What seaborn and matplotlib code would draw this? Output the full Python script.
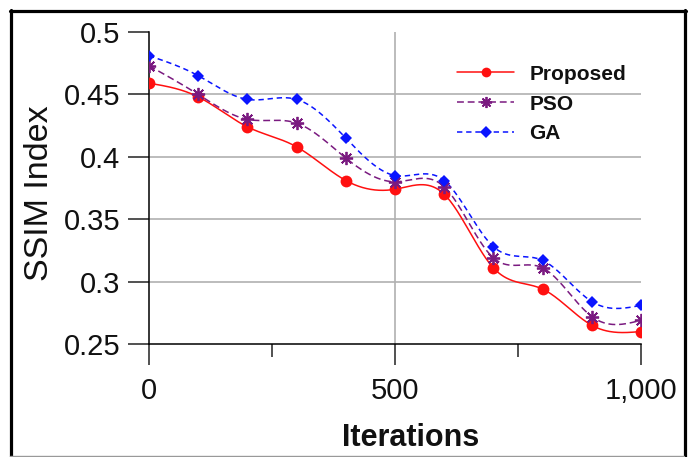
import numpy as np
import pandas as pd
import matplotlib
matplotlib.use("Agg")
import matplotlib.pyplot as plt
from matplotlib.lines import Line2D
import seaborn as sns

# ---- data ----
iterations = [0, 100, 200, 300, 400, 500, 600, 700, 800, 900, 1000]
proposed = [0.459, 0.448, 0.424, 0.408, 0.381, 0.374, 0.370, 0.311, 0.294, 0.265, 0.260]
pso = [0.473, 0.450, 0.430, 0.427, 0.399, 0.380, 0.376, 0.319, 0.311, 0.272, 0.269]
ga = [0.481, 0.465, 0.446, 0.446, 0.415, 0.385, 0.381, 0.328, 0.317, 0.284, 0.281]
series_names = ["Proposed", "PSO", "GA"]
x_ticks = [0, 500, 1000]
x_tick_labels = ["0", "500", "1,000"]
x_minor_ticks = [250, 750]
y_ticks = [0.25, 0.30, 0.35, 0.40, 0.45, 0.50]
y_tick_labels = ["0.25", "0.3", "0.35", "0.4", "0.45", "0.5"]
x_label = "Iterations"
y_label = "SSIM Index"


def natural_spline(x, y, xs):
    x = np.asarray(x, float)
    y = np.asarray(y, float)
    n = len(x)
    h = np.diff(x)
    A = np.zeros((n, n))
    r = np.zeros(n)
    A[0, 0] = 1
    A[-1, -1] = 1
    for i in range(1, n - 1):
        A[i, i - 1] = h[i - 1]
        A[i, i] = 2 * (h[i - 1] + h[i])
        A[i, i + 1] = h[i]
        r[i] = 6 * ((y[i + 1] - y[i]) / h[i] - (y[i] - y[i - 1]) / h[i - 1])
    M = np.linalg.solve(A, r)
    idx = np.clip(np.searchsorted(x, xs, side="right") - 1, 0, n - 2)
    x0, x1 = x[idx], x[idx + 1]
    hh = x1 - x0
    return (M[idx] * (x1 - xs) ** 3 / (6 * hh) + M[idx + 1] * (xs - x0) ** 3 / (6 * hh)
            + (y[idx] / hh - M[idx] * hh / 6) * (x1 - xs)
            + (y[idx + 1] / hh - M[idx + 1] * hh / 6) * (xs - x0))


sns.set_style("white")
plt.rcParams["font.family"] = ["Liberation Sans", "DejaVu Sans"]

fig = plt.figure(figsize=(6.92, 4.57), dpi=100)
ax = fig.add_axes([149 / 692, 1 - 344 / 457, 492 / 692, 312 / 457])

styles = {
    "Proposed": dict(color="#ff1010", ls="-", marker="o", ms=8.5, mew=0, lms=7),
    "PSO": dict(color="#7a1a80", ls=(0, (4.5, 2.5)), marker=(8, 2, 0), ms=9.5, mew=1.3, lms=8),
    "GA": dict(color="#0a14ff", ls=(0, (3.5, 2.5)), marker="D", ms=6.5, mew=0, lms=6),
}
values = {"Proposed": proposed, "PSO": pso, "GA": ga}

xs = np.linspace(iterations[0], iterations[-1], 600)
handles = []
for name in series_names:
    st = styles[name]
    dense = pd.DataFrame({"x": xs, "y": natural_spline(iterations, values[name], xs)})
    sns.lineplot(data=dense, x="x", y="y", ax=ax, color=st["color"], linewidth=1.1,
                 linestyle=st["ls"], zorder=3)
    ax.plot(iterations, values[name], ls="none", marker=st["marker"], ms=st["ms"],
            color=st["color"], mec=st["color"], mew=st["mew"], zorder=4)
    handles.append(Line2D([], [], color=st["color"], lw=1.1, ls=st["ls"], marker=st["marker"],
                          ms=st["lms"], mec=st["color"], mew=st["mew"]))

ax.set_xlim(0, 1000)
ax.set_ylim(0.25, 0.5)
ax.set_xticks(x_ticks)
ax.set_xticklabels(x_tick_labels)
ax.set_xticks(x_minor_ticks, minor=True)
ax.set_yticks(y_ticks)
ax.set_yticklabels(y_tick_labels)

ax.grid(True, color="#b0b0b0", lw=1.2, zorder=0)
ax.set_axisbelow(True)
ygl = ax.yaxis.get_gridlines()
ygl[0].set_visible(False)
ygl[-1].set_visible(False)
xgl = ax.xaxis.get_gridlines()
xgl[0].set_visible(False)
xgl[-1].set_visible(False)

for s in ["top", "right"]:
    ax.spines[s].set_visible(False)
for s in ["left", "bottom"]:
    ax.spines[s].set_color("black")
    ax.spines[s].set_linewidth(1.1)

ax.tick_params(axis="y", which="major", direction="out", length=15, width=1.1, pad=5.5,
               labelsize=21, color="#222222", labelcolor="#111111", left=True)
ax.tick_params(axis="x", which="major", direction="out", length=15, width=1.1, pad=9,
               labelsize=21, color="#222222", labelcolor="#111111", bottom=True)
ax.tick_params(axis="x", which="minor", direction="out", length=9.5, width=1.1,
               color="#222222", bottom=True)

ax.set_xlabel(x_label, fontsize=22, fontweight="bold", color="#111111")
ax.set_ylabel(y_label, fontsize=24.5, color="#111111")
ax.xaxis.set_label_coords((411 - 149) / 492, -(423 - 344) / 312)
ax.yaxis.set_label_coords((55 - 149) / 492, 1 - (193 - 32) / 312)

leg = ax.legend(handles, series_names, loc="upper left", bbox_to_anchor=(0.627, 0.895),
                frameon=False, prop={"size": 15, "weight": "bold"}, handlelength=2.7,
                handletextpad=0.75, labelspacing=0.52, borderpad=0, borderaxespad=0)
for t in leg.get_texts():
    t.set_color("#111111")

# figure border
W, H = 692, 457
def fx(p):
    return p / W
def fy(p):
    return 1 - p / H
fig.add_artist(Line2D([fx(11.5), fx(11.5)], [fy(10), fy(457)], color="black", lw=2.3))
fig.add_artist(Line2D([fx(10), fx(686)], [fy(11), fy(11)], color="black", lw=2.3))
fig.add_artist(Line2D([fx(684.5), fx(684.5)], [fy(10), fy(457)], color="black", lw=2.3))
fig.add_artist(Line2D([fx(10), fx(684)], [fy(455.5), fy(455.5)], color="#999999", lw=1))

fig.savefig("out.png", dpi=100)
